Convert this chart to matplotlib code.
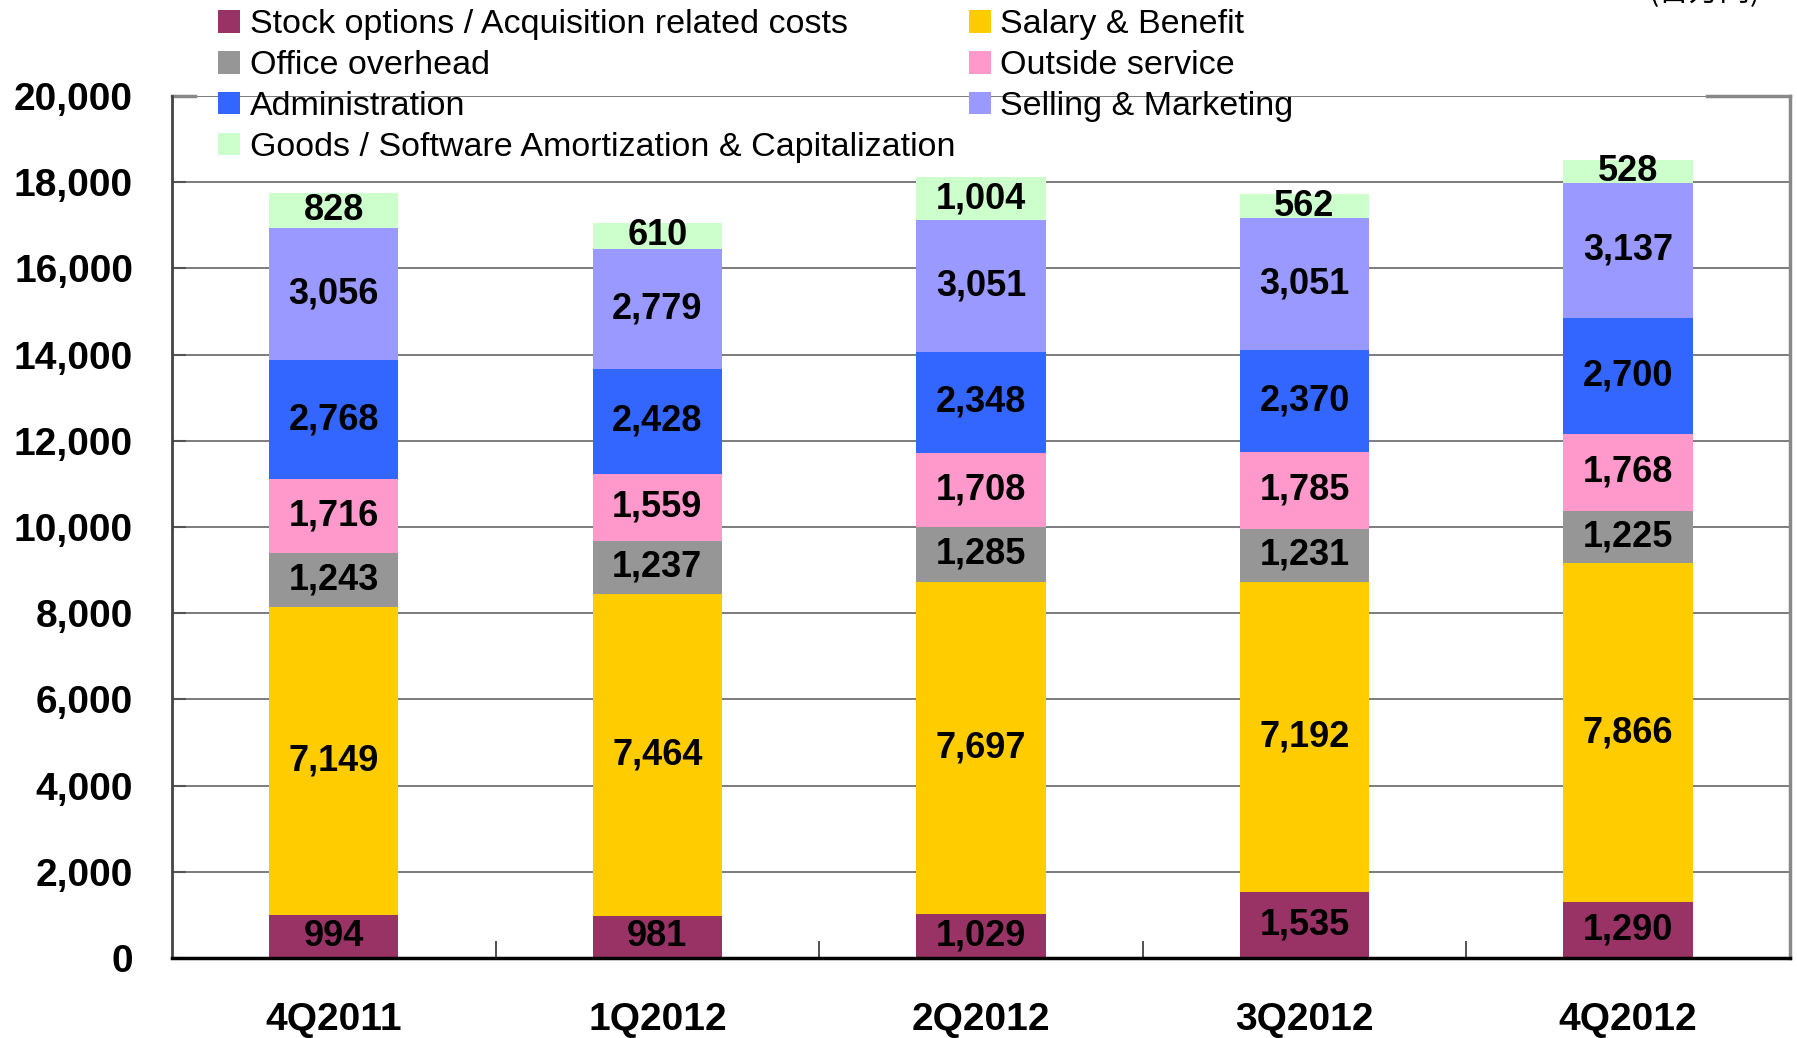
import numpy as np
import matplotlib
matplotlib.use("Agg")
import matplotlib.pyplot as plt
from matplotlib.lines import Line2D

# datos (de abajo hacia arriba en cada barra)
trimestres = ["4Q2011", "1Q2012", "2Q2012", "3Q2012", "4Q2012"]
stock = [994, 981, 1029, 1535, 1290]
salario = [7149, 7464, 7697, 7192, 7866]
oficina = [1243, 1237, 1285, 1231, 1225]
externos = [1716, 1559, 1708, 1785, 1768]
admin = [2768, 2428, 2348, 2370, 2700]
ventas = [3056, 2779, 3051, 3051, 3137]
goods = [828, 610, 1004, 562, 528]

nombres = ["Stock options / Acquisition related costs", "Salary & Benefit",
           "Office overhead", "Outside service", "Administration",
           "Selling & Marketing", "Goods / Software Amortization & Capitalization"]
colores = ["#993366", "#FFCC00", "#969696", "#FF99CC", "#3366FF", "#9999FF", "#CCFFCC"]
series = [stock, salario, oficina, externos, admin, ventas, goods]

plt.rcParams['font.family'] = ['Liberation Sans', 'DejaVu Sans']

fig = plt.figure(figsize=(17.97, 10.38), dpi=100)
ax = fig.add_axes([0.0957, 0.0771, 0.9003, 0.8304])

x = np.arange(len(trimestres))
base = np.zeros(len(trimestres))
barras = {}
for nombre, vals, col in zip(nombres, series, colores):
    b = ax.bar(x, vals, width=0.4, bottom=base, color=col, zorder=2, label=nombre)
    ax.bar_label(b, labels=[f"{v:,}" for v in vals], label_type='center',
                 fontsize=26, fontweight='bold', color='black', zorder=3)
    barras[nombre] = b
    base = base + np.array(vals)

ax.set_xlim(-0.5, 4.5)
ax.set_ylim(0, 20000)
ax.set_yticks(np.arange(0, 20001, 2000))
ax.set_yticklabels([f"{v:,}" for v in range(0, 20001, 2000)],
                   fontsize=28, fontweight='bold')
ax.set_xticks(x)
ax.set_xticklabels(trimestres, fontsize=28, fontweight='bold')
ax.set_xticks(np.arange(0.5, 4.5, 1), minor=True)
ax.tick_params(axis='x', which='major', length=0, pad=32)
ax.tick_params(axis='x', which='minor', direction='in', length=12, width=1.2, color='#333333')
ax.tick_params(axis='y', direction='in', length=10, width=1.5, color='#555555', pad=28)

ax.yaxis.grid(True, color='#666666', linewidth=1.2, zorder=0)
ax.set_axisbelow(True)

ax.spines['top'].set_visible(False)
ax.spines['bottom'].set_color('black')
ax.spines['bottom'].set_linewidth(2.5)
ax.spines['left'].set_color('#444444')
ax.spines['left'].set_linewidth(2)
ax.spines['right'].set_color('#888888')
ax.spines['right'].set_linewidth(2.5)
# borde superior cortado por la leyenda
for x0, x1 in [(0, 0.014), (0.949, 1.0)]:
    ax.add_line(Line2D([x0, x1], [1, 1], transform=ax.transAxes, color='#888888',
                       linewidth=2.5, clip_on=False))

orden = [0, 2, 4, 6, 1, 3, 5]
handles = [barras[nombres[i]] for i in orden]
labels = [nombres[i] for i in orden]
fig.legend(handles, labels, loc='upper left', bbox_to_anchor=(0.108, 1.014), ncol=2,
           fontsize=24.5, frameon=False, handlelength=0.65, handleheight=0.65,
           handletextpad=0.28, columnspacing=0.4, labelspacing=0.29, borderpad=0.2)

fig.text(0.917, 0.992, "(百万円)", fontsize=22, va='bottom', ha='left',
         family=['Noto Sans CJK JP', 'DejaVu Sans'])

fig.savefig("out.png", dpi=100)
